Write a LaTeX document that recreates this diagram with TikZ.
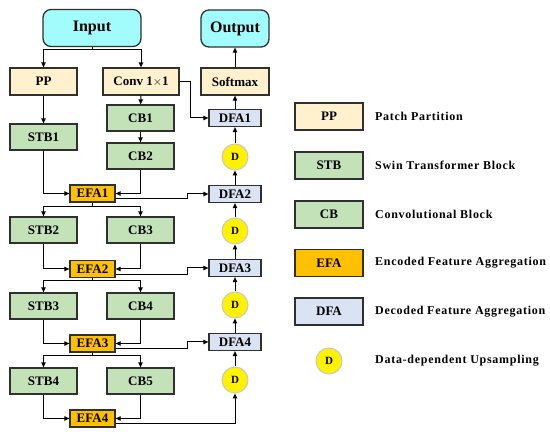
\documentclass[tikz,border=0pt]{standalone}
\usepackage{fontspec}
\setmainfont{Liberation Serif}
\newfontfamily\legfont[LetterSpace=6]{Liberation Serif}
\usetikzlibrary{arrows.meta,calc}
\definecolor{cinput}{HTML}{A3FCFC}
\definecolor{cbeige}{HTML}{FFF1CE}
\definecolor{cgreen}{HTML}{C3E2B8}
\definecolor{cefa}{HTML}{FFC000}
\definecolor{cdfa}{HTML}{DAE3F3}
\definecolor{cborder}{HTML}{303030}
\definecolor{cdring}{HTML}{C8C8C8}
\begin{document}
\begin{tikzpicture}[x=1pt,y=-1pt,
  base/.style={draw=cborder,line width=1.3pt,inner sep=0pt,font=\bfseries\fontsize{13}{13}\selectfont},
  io/.style={base,fill=cinput,rounded corners=8pt,minimum width=98pt,minimum height=37pt,font=\bfseries\fontsize{16}{16}\selectfont},
  beige/.style={base,fill=cbeige,minimum height=27pt},
  green/.style={base,fill=cgreen,minimum width=67pt,minimum height=26pt},
  efa/.style={base,fill=cefa,minimum width=45pt,minimum height=17pt},
  dfa/.style={base,fill=cdfa,minimum width=52pt,minimum height=17pt},
  dcirc/.style={circle,draw=cdring,line width=1pt,fill=yellow,minimum size=26pt,inner sep=0pt,font=\bfseries\fontsize{11}{11}\selectfont},
  legbox/.style={base,minimum width=68pt,minimum height=27pt},
  legtext/.style={anchor=west,inner sep=0pt,font=\legfont\bfseries\fontsize{12}{12}\selectfont},
  arr/.style={line width=1pt,-{Triangle[length=5pt,width=4.5pt]}},
  ln/.style={line width=1pt}]
\useasboundingbox (0,0) rectangle (550,435);
% left column
\node[io] (input) at (92,28) {Input};
\node[io,minimum width=68pt] (output) at (235,28.5) {Output};
\node[beige,minimum width=67pt] (pp) at (43.5,81.5) {PP};
\node[beige,minimum width=76pt] (conv) at (141,81.5) {Conv 1$\times$1};
\node[beige,minimum width=68pt] (softmax) at (235,81.5) {Softmax};
\node[green] (stb1) at (43.5,137) {STB1};
\node[green] (cb1) at (140.5,118) {CB1};
\node[green] (cb2) at (140.5,156) {CB2};
\node[efa] (efa1) at (92.5,193.5) {EFA1};
\node[green] (stb2) at (43.5,230) {STB2};
\node[green] (cb3) at (140.5,230) {CB3};
\node[efa] (efa2) at (92.5,269) {EFA2};
\node[green] (stb3) at (43.5,306) {STB3};
\node[green] (cb4) at (140.5,306) {CB4};
\node[efa] (efa3) at (92.5,343.5) {EFA3};
\node[green] (stb4) at (43.5,381) {STB4};
\node[green] (cb5) at (140.5,381) {CB5};
\node[efa] (efa4) at (92.5,418.5) {EFA4};
% decoder column
\node[dfa] (dfa1) at (235,118) {DFA1};
\node[dcirc] (d1) at (235,157) {D};
\node[dfa] (dfa2) at (235,194) {DFA2};
\node[dcirc] (d2) at (235,231) {D};
\node[dfa] (dfa3) at (235,268) {DFA3};
\node[dcirc] (d3) at (235,305) {D};
\node[dfa] (dfa4) at (235,342) {DFA4};
\node[dcirc] (d4) at (235,380) {D};
% coordinates
\coordinate (s0) at (92,50);
\coordinate (s1) at (92.5,207);
\coordinate (s2) at (92.5,281);
\coordinate (s3) at (92.5,356);
\coordinate (stepx) at (187,0);
\coordinate (convx) at (190,0);
\coordinate (o1) at ([yshift=-5.5pt]efa1.east);
\coordinate (o2) at ([yshift=-5.5pt]efa2.east);
\coordinate (o3) at ([yshift=-5.5pt]efa3.east);
\coordinate (o4) at ([yshift=-5.5pt]efa4.east);
% connectors
\draw[ln] (input.south) -- (s0);
\draw[arr] (s0) -| (pp.north);
\draw[arr] (s0) -| (conv.north);
\draw[arr] (pp) -- (stb1);
\draw[arr] (conv) -- (cb1);
\draw[arr] (cb1) -- (cb2);
\draw[arr] (conv.east) -| (convx |- dfa1.west) -- (dfa1.west);
\draw[arr] (stb1.south) |- (efa1.west);
\draw[arr] (cb2.south) |- (efa1.east);
\draw[ln] (efa1.south) -- (s1);
\draw[arr] (s1) -| (stb2.north);
\draw[arr] (s1) -| (cb3.north);
\draw[arr] (stb2.south) |- (efa2.west);
\draw[arr] (cb3.south) |- (efa2.east);
\draw[ln] (efa2.south) -- (s2);
\draw[arr] (s2) -| (stb3.north);
\draw[arr] (s2) -| (cb4.north);
\draw[arr] (stb3.south) |- (efa3.west);
\draw[arr] (cb4.south) |- (efa3.east);
\draw[ln] (efa3.south) -- (s3);
\draw[arr] (s3) -| (stb4.north);
\draw[arr] (s3) -| (cb5.north);
\draw[arr] (stb4.south) |- (efa4.west);
\draw[arr] (cb5.south) |- (efa4.east);
% encoder to decoder
\draw[arr] (o1) -- (stepx |- o1) |- (dfa2.west);
\draw[arr] (o2) -- (stepx |- o2) |- (dfa3.west);
\draw[arr] (o3) -- (stepx |- o3) |- (dfa4.west);
\draw[arr] (o4) -| (d4.south);
% decoder chain
\draw[arr] (d4) -- (dfa4);
\draw[arr] (dfa4) -- (d3);
\draw[arr] (d3) -- (dfa3);
\draw[arr] (dfa3) -- (d2);
\draw[arr] (d2) -- (dfa2);
\draw[arr] (dfa2) -- (d1);
\draw[arr] (d1) -- (dfa1);
\draw[arr] (dfa1) -- (softmax);
\draw[arr] (softmax) -- (output);
% legend
\node[legbox,fill=cbeige] (lpp) at (329,116.5) {PP};
\node[legbox,fill=cgreen] (lstb) at (329,165.5) {STB};
\node[legbox,fill=cgreen] (lcb) at (329,214.5) {CB};
\node[legbox,fill=cefa] (lefa) at (329,263) {EFA};
\node[legbox,fill=cdfa] (ldfa) at (329,311.5) {DFA};
\node[dcirc] (ld) at (329,361) {D};
\node[legtext] (tpp) at (375,116.5) {Patch Partition};
\node[legtext] (tstb) at (375,165.5) {Swin Transformer Block};
\node[legtext] (tcb) at (375,214.5) {Convolutional Block};
\node[legtext] (tefa) at (375,263) {Encoded Feature Aggregation};
\node[legtext] (tdfa) at (375,311.5) {Decoded Feature Aggregation};
\node[legtext] (td) at (375,361) {Data-dependent Upsampling};
\end{tikzpicture}
\end{document}
